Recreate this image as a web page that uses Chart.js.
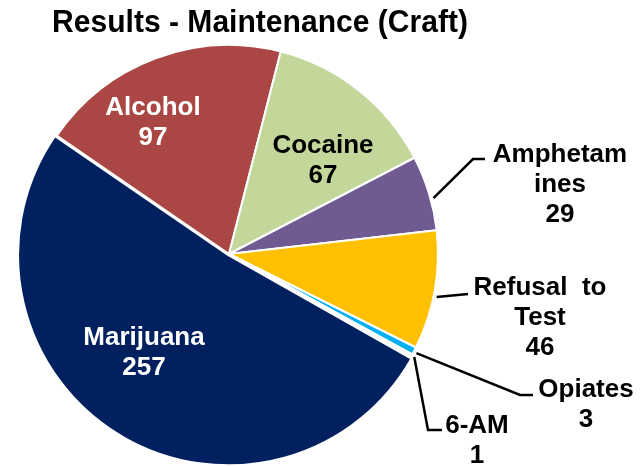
<!DOCTYPE html>
<html lang="en">
<head>
    <meta charset="UTF-8">
    <title>Results - Maintenance (Craft)</title>
    <style>
        body {
            margin: 0;
            background-color: #fff;
        }
        canvas {
            display: block;
        }
    </style>
</head>
<body>
    <canvas id="resultsChart" width="643" height="466"></canvas>

    <script src="https://cdn.jsdelivr.net/npm/chart.js"></script>
    <script>
        // drug test results, clockwise from Alcohol
        const categories = ['Alcohol', 'Cocaine', 'Amphetamines', 'Refusal to Test', 'Opiates', '6-AM', 'Marijuana'];
        const counts = [97, 67, 29, 46, 3, 1, 257];
        const sliceColors = ['#AA4744', '#C4D79B', '#705A92', '#FFC000', '#00B0F0', '#F2F2F2', '#002060'];

        // wrapped label text, the count goes on the last line
        const labelLines = [['Alcohol'], ['Cocaine'], ['Amphetam', 'ines'], ['Refusal  to', 'Test'], ['Opiates'], ['6-AM'], ['Marijuana']];
        const labelColors = ['#fff', '#000', '#000', '#000', '#000', '#000', '#fff'];

        // where each label sits: centre x, first baseline y, leader bend/end,
        // and how far along the slice (0..1) the leader leaves the rim
        const labelSpots = [
            { x: 153, y: 115 },
            { x: 323, y: 153 },
            { x: 560, y: 162, bend: [473, 159], end: [485, 159], along: 0.58 },
            { x: 540, y: 295, end: [468, 294], along: 0.55 },
            { x: 586, y: 397, bend: [520, 395], end: [533, 395], along: 0.6 },
            { x: 477, y: 433, bend: [428, 430], end: [442, 430], along: 0.5 },
            { x: 144, y: 345 }
        ];

        const labelFont = 'bold 26px "Liberation Sans", Arial, sans-serif';
        const lineGap = 30;

        const pieLabels = {
            id: 'pieLabels',
            afterDatasetsDraw(chart) {
                const ctx = chart.ctx;
                const arcs = chart.getDatasetMeta(0).data;

                ctx.save();
                // leader lines from the rim out to the outside labels
                ctx.strokeStyle = '#000';
                ctx.lineWidth = 2.5;
                arcs.forEach((arc, i) => {
                    const spot = labelSpots[i];
                    if (!spot.end) return;
                    const a = arc.startAngle + (arc.endAngle - arc.startAngle) * spot.along;
                    const r = arc.outerRadius + 3;
                    ctx.beginPath();
                    ctx.moveTo(arc.x + Math.cos(a) * r, arc.y + Math.sin(a) * r);
                    if (spot.bend) ctx.lineTo(spot.bend[0], spot.bend[1]);
                    ctx.lineTo(spot.end[0], spot.end[1]);
                    ctx.stroke();
                });

                ctx.font = labelFont;
                ctx.textAlign = 'center';
                ctx.textBaseline = 'alphabetic';
                arcs.forEach((arc, i) => {
                    const spot = labelSpots[i];
                    const lines = labelLines[i].concat(String(counts[i]));
                    ctx.fillStyle = labelColors[i];
                    lines.forEach((txt, j) => {
                        ctx.fillText(txt, spot.x, spot.y + j * lineGap);
                    });
                });

                // chart title
                const title = 'Results - Maintenance (Craft)';
                ctx.font = 'bold 31px "Liberation Sans", Arial, sans-serif';
                ctx.fillStyle = '#000';
                const w = ctx.measureText(title).width;
                const sx = Math.min(1, 416 / w);
                ctx.translate(260, 32);
                ctx.scale(sx, 1);
                ctx.fillText(title, 0, 0);
                ctx.restore();
            }
        };

        new Chart(document.getElementById('resultsChart'), {
            type: 'pie',
            data: {
                labels: categories,
                datasets: [{
                    data: counts,
                    backgroundColor: sliceColors,
                    borderColor: '#fff',
                    borderWidth: 2,
                    offset: [0, 0, 0, 0, 0, 0, 5]
                }]
            },
            options: {
                responsive: false,
                animation: false,
                rotation: -55.5,
                radius: 209,
                layout: {
                    padding: { left: 0, right: 185, top: 42, bottom: 0 }
                },
                plugins: {
                    legend: { display: false },
                    tooltip: { enabled: false },
                    title: { display: false }
                }
            },
            plugins: [pieLabels]
        });
    </script>
</body>
</html>
